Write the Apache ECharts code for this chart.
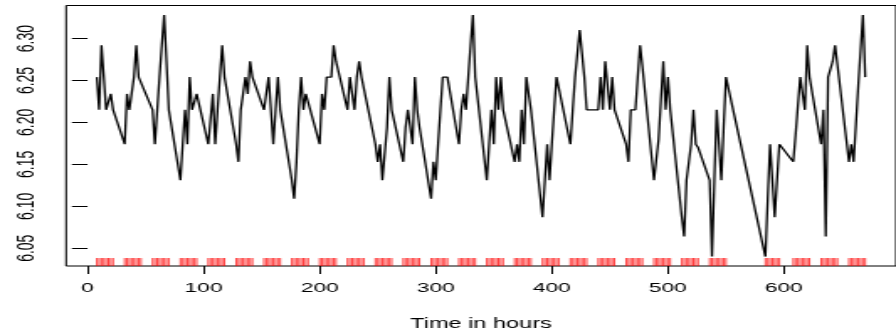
<!DOCTYPE html>
<html>
<head>
<meta charset="utf-8">
<script src="https://cdn.jsdelivr.net/npm/echarts@6/dist/echarts.min.js"></script>
<style>
  html, body { margin: 0; padding: 0; background: #fff; }
  #wrap { width: 896px; height: 336px; overflow: hidden; position: relative; }
  /* the plot is laid out on a narrower canvas and widened horizontally */
  #chart { width: 533px; height: 336px; transform: scaleX(1.681); transform-origin: 0 0; }
</style>
</head>
<body>
<div id="wrap"><div id="chart"></div></div>
<script>
// Observation days (day index from start; day 23 has no readings)
const obsDays = [0,1,2,3,4,5,6,7,8,9,10,11,12,13,14,15,16,17,18,19,20,21,22,24,25,26,27];
// Clock hours sampled on each day
const obsHours = [8,10,12,14,16,18,20,22];
// Log readings per day, one per sampled hour (null = no reading)
const dayValues = [
  [6.254,6.215,6.292,6.254,6.215,6.215,6.234,6.215],
  [6.174,6.234,6.215,6.215,6.254,6.292,6.254,6.254],
  [6.215,6.174,6.174,6.254,6.292,6.328,6.273,6.215],
  [6.131,6.174,6.215,6.174,6.254,6.215,6.215,6.234],
  [6.174,6.174,6.234,6.174,6.215,6.254,6.292,6.254],
  [6.174,6.153,6.215,6.234,6.254,6.234,6.273,6.254],
  [6.215,6.215,6.254,6.215,6.174,6.215,6.254,6.215],
  [6.131,6.109,6.153,6.215,6.254,6.215,6.234,6.234],
  [6.174,6.234,6.215,6.254,6.254,6.254,6.292,6.273],
  [6.215,6.254,6.234,6.215,6.254,6.273,6.254,6.254],
  [6.174,6.153,6.174,6.131,6.131,6.194,6.254,6.215],
  [6.153,6.194,6.215,6.215,6.174,6.254,6.215,6.194],
  [6.109,6.153,6.131,6.174,6.215,6.254,6.254,6.254],
  [6.174,6.215,6.234,6.215,6.254,6.292,6.328,6.254],
  [6.131,6.174,6.215,6.174,6.254,6.215,6.254,6.215],
  [6.153,6.174,6.153,6.215,6.174,6.254,6.234,6.215],
  [6.087,6.131,6.174,6.131,6.174,6.215,6.254,6.254],
  [6.174,6.215,6.254,6.254,6.310,6.282,6.254,6.215],
  [6.215,6.254,6.215,6.273,6.244,6.215,6.254,6.215],
  [6.174,6.153,6.215,6.215,6.215,6.254,6.292,6.267],
  [6.131,6.131,6.180,6.227,6.273,6.215,6.254,6.215],
  [6.087,6.064,6.131,6.131,6.174,6.215,6.174,6.170],
  [6.131,6.040,6.131,6.215,6.174,6.131,6.194,6.254],
  [6.040,6.109,6.174,6.131,6.087,6.131,6.174,null],
  [6.153,6.185,6.220,6.254,6.254,6.215,6.292,6.254],
  [6.174,6.215,6.064,6.254,6.254,6.273,6.292,6.269],
  [6.153,6.174,6.153,6.198,6.244,6.286,6.328,6.254]
];
// Axis tick labels
const xTicks = [0,100,200,300,400,500,600];
const yTicks = [6.05,6.10,6.15,6.20,6.25,6.30];
const xName = 'Time in hours';

const X_MIN = -18.5, X_MAX = 696.5;
const Y_MIN = 6.0288, Y_MAX = 6.3394;

// Build the (time, value) pairs
const points = [];
obsDays.forEach((d, i) => {
  obsHours.forEach((h, j) => {
    const v = dayValues[i][j];
    if (v !== null) points.push([d * 24 + h, v]);
  });
});
const rugTimes = points.map(p => [p[0]]);

const FONT = '"Liberation Sans", Arial, Helvetica, sans-serif';
const chart = echarts.init(document.getElementById('chart'), null, { renderer: 'canvas' });
chart.setOption({
  animation: false,
  backgroundColor: '#fff',
  grid: {
    left: 39.3, right: -6, top: 5.5, bottom: 68,
    show: true, borderColor: '#000', borderWidth: 1, backgroundColor: 'transparent'
  },
  xAxis: {
    type: 'value', min: X_MIN, max: X_MAX,
    name: xName, nameLocation: 'middle', nameGap: 51,
    nameTextStyle: { fontFamily: FONT, fontSize: 14, color: '#000' },
    axisLine: { show: false },
    axisTick: { show: true, customValues: xTicks, length: 8, lineStyle: { color: '#000', width: 1 } },
    axisLabel: {
      customValues: xTicks, fontFamily: FONT, fontSize: 13.5, color: '#000', margin: 15,
      formatter: v => String(v)
    },
    splitLine: { show: false }
  },
  yAxis: {
    type: 'value', min: Y_MIN, max: Y_MAX,
    axisLine: { show: false },
    axisTick: { show: true, customValues: yTicks, length: 9.3, lineStyle: { color: '#000', width: 1 } },
    axisLabel: {
      customValues: yTicks, rotate: 90, fontFamily: FONT, fontSize: 14, color: '#000', margin: 16,
      formatter: v => v.toFixed(2)
    },
    splitLine: { show: false }
  },
  series: [
    {
      type: 'line', data: points, showSymbol: false, symbol: 'none',
      lineStyle: { color: '#000', width: 1.3 }, z: 3
    },
    {
      type: 'custom', data: rugTimes, z: 2,
      encode: { x: 0 },
      renderItem: (params, api) => {
        const p = api.coord([api.value(0), Y_MIN]);
        return {
          type: 'line',
          shape: { x1: p[0], y1: p[1], x2: p[0], y2: p[1] - 8 },
          style: { stroke: '#ff0000', lineWidth: 0.75 }
        };
      }
    }
  ]
});
</script>
</body>
</html>
